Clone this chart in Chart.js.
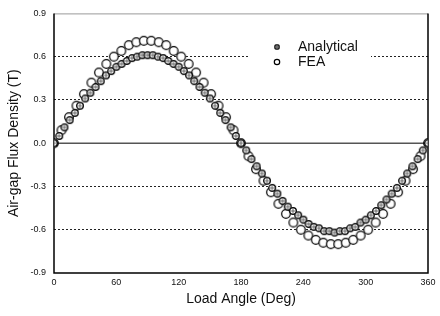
<!DOCTYPE html>
<html>
<head>
<meta charset="utf-8">
<script src="https://cdn.jsdelivr.net/npm/chart.js@4"></script>
<style>
  html, body { margin: 0; padding: 0; background: #fff; }
  #wrap { width: 440px; height: 316px; }
</style>
</head>
<body>
<div id="wrap"><canvas id="chart" width="440" height="316"></canvas></div>
<script>
// Analytical samples: load angle (deg) and air-gap flux density (T)
const anaAngles = [0, 5, 10, 15, 20, 25, 30, 35, 40, 45, 50, 55, 60, 65, 70, 75, 80, 85, 90,
    95, 100, 105, 110, 115, 120, 125, 130, 135, 140, 145, 150, 155, 160, 165, 170, 175, 180,
    185, 190, 195, 200, 205, 210, 215, 220, 225, 230, 235, 240, 245, 250, 255, 260, 265, 270,
    275, 280, 285, 290, 295, 300, 305, 310, 315, 320, 325, 330, 335, 340, 345, 350, 355, 360];
const analytical = [0.00, 0.05, 0.11, 0.16, 0.21, 0.26, 0.31, 0.35, 0.39, 0.43, 0.47, 0.50, 0.53,
    0.55, 0.57, 0.59, 0.60, 0.61, 0.61,
    0.61, 0.60, 0.59, 0.57, 0.55, 0.53, 0.50, 0.47, 0.43, 0.39, 0.35, 0.31, 0.26, 0.21, 0.16,
    0.11, 0.05, 0.00,
    -0.05, -0.11, -0.16, -0.21, -0.26, -0.31, -0.35, -0.40, -0.44, -0.47, -0.50, -0.53, -0.56,
    -0.58, -0.59, -0.61, -0.61, -0.62,
    -0.61, -0.61, -0.59, -0.58, -0.55, -0.53, -0.50, -0.47, -0.43, -0.39, -0.35, -0.31, -0.26,
    -0.21, -0.16, -0.11, -0.05, 0.00];

// FEA samples
const feaAngles = [0, 7.2, 14.4, 21.6, 28.8, 36, 43.2, 50.4, 57.6, 64.8, 72, 79.2, 86.4, 93.6,
    100.8, 108, 115.2, 122.4, 129.6, 136.8, 144, 151.2, 158.4, 165.6, 172.8, 180, 187.2, 194.4,
    201.6, 208.8, 216, 223.2, 230.4, 237.6, 244.8, 252, 259.2, 266.4, 273.6, 280.8, 288, 295.2,
    302.4, 309.6, 316.8, 324, 331.2, 338.4, 345.6, 352.8, 360];
const fea = [0.00, 0.09, 0.18, 0.26, 0.34, 0.42, 0.49, 0.55, 0.60, 0.64, 0.68, 0.70, 0.71, 0.71,
    0.70, 0.68, 0.64, 0.60, 0.55, 0.49, 0.42, 0.34, 0.26, 0.18, 0.09, 0.00,
    -0.09, -0.18, -0.26, -0.34, -0.42, -0.49, -0.55, -0.60, -0.64, -0.67, -0.69, -0.70, -0.70,
    -0.69, -0.67, -0.64, -0.60, -0.55, -0.49, -0.42, -0.34, -0.26, -0.18, -0.09, 0.00];

const xTicks = [0, 60, 120, 180, 240, 300, 360];
const yTicks = [-0.9, -0.6, -0.3, 0.0, 0.3, 0.6, 0.9];

const FONT = "'Liberation Sans', Arial, sans-serif";

// marker images
function markerCanvas(r, cross) {
    const c = document.createElement('canvas');
    const s = Math.ceil(r * 2 + 3);
    c.width = s; c.height = s;
    const g = c.getContext('2d');
    const m = s / 2;
    g.fillStyle = '#fff';
    g.strokeStyle = '#000';
    g.lineWidth = 1.2;
    g.beginPath(); g.arc(m, m, r, 0, Math.PI * 2); g.fill(); g.stroke();
    if (cross) {
        g.lineWidth = 0.7;
        g.strokeStyle = '#333';
        g.beginPath();
        g.moveTo(m - r, m); g.lineTo(m + r, m);
        g.moveTo(m, m - r); g.lineTo(m, m + r);
        g.stroke();
    }
    return c;
}

const frame = {
    id: 'frame',
    beforeDatasetsDraw(chart) {
        const { ctx, chartArea: a, scales } = chart;
        const y0 = scales.y.getPixelForValue(0);
        ctx.save();
        ctx.strokeStyle = '#555';
        ctx.lineWidth = 1.5;
        ctx.beginPath(); ctx.moveTo(a.left, y0); ctx.lineTo(a.right, y0); ctx.stroke();
        // legend background
        ctx.fillStyle = '#fff';
        ctx.fillRect(248, 38, 123, 32);
        // box
        ctx.strokeStyle = '#999';
        ctx.lineWidth = 1;
        ctx.beginPath(); ctx.moveTo(a.left, a.top + 0.5); ctx.lineTo(a.right, a.top + 0.5); ctx.stroke();
        ctx.strokeStyle = '#000';
        ctx.lineWidth = 1.5;
        ctx.beginPath();
        ctx.moveTo(a.left, a.top); ctx.lineTo(a.left, a.bottom); ctx.lineTo(a.right, a.bottom); ctx.lineTo(a.right, a.top);
        ctx.stroke();
        // legend
        ctx.fillStyle = '#111';
        ctx.font = '14px ' + FONT;
        ctx.textBaseline = 'middle';
        ctx.fillText('Analytical', 298, 47);
        ctx.fillText('FEA', 298, 62);
        ctx.fillStyle = '#222';
        ctx.beginPath(); ctx.arc(277, 47, 3, 0, Math.PI * 2); ctx.fill();
        ctx.strokeStyle = '#999'; ctx.lineWidth = 0.8;
        ctx.beginPath(); ctx.moveTo(274.5, 47); ctx.lineTo(279.5, 47); ctx.moveTo(277, 44.5); ctx.lineTo(277, 49.5); ctx.stroke();
        ctx.strokeStyle = '#000'; ctx.lineWidth = 1.2;
        ctx.beginPath(); ctx.arc(277, 62, 2.7, 0, Math.PI * 2); ctx.stroke();
        ctx.restore();
    }
};

const ctx = document.getElementById('chart').getContext('2d');
new Chart(ctx, {
    type: 'scatter',
    data: {
        datasets: [
            {
                label: 'Analytical',
                data: anaAngles.map((a, i) => ({ x: a, y: analytical[i] })),
                pointStyle: markerCanvas(3.4, true),
                pointRadius: 4
            },
            {
                label: 'FEA',
                data: feaAngles.map((a, i) => ({ x: a, y: fea[i] })),
                pointStyle: markerCanvas(4.3, false),
                pointRadius: 5
            }
        ]
    },
    plugins: [frame],
    options: {
        responsive: false,
        animation: false,
        devicePixelRatio: 1,
        layout: { padding: { left: 0, top: 10, right: 12, bottom: 0 } },
        plugins: {
            legend: { display: false },
            tooltip: { enabled: false }
        },
        scales: {
            x: {
                type: 'linear',
                min: 0,
                max: 360,
                afterBuildTicks: s => { s.ticks = xTicks.map(v => ({ value: v })); },
                afterFit: s => { s.height = 43; },
                grid: { display: false, drawTicks: false },
                border: { display: false },
                ticks: {
                    padding: 4,
                    color: '#111',
                    font: { family: FONT, size: 9 },
                    maxRotation: 0
                },
                title: {
                    display: true,
                    text: 'Load Angle (Deg)',
                    color: '#111',
                    font: { family: FONT, size: 14 },
                    padding: { top: 0, bottom: 8 }
                }
            },
            y: {
                type: 'linear',
                min: -0.9,
                max: 0.9,
                afterBuildTicks: s => { s.ticks = yTicks.map(v => ({ value: v })); },
                afterFit: s => { s.width = 54; },
                grid: {
                    drawTicks: false,
                    color: c => (Math.abs(c.tick.value) > 0.85 || Math.abs(c.tick.value) < 0.01) ? 'rgba(0,0,0,0)' : '#222',
                    lineWidth: 1
                },
                border: { display: false, dash: [2, 2] },
                ticks: {
                    padding: 8,
                    color: '#111',
                    font: { family: FONT, size: 9 },
                    callback: v => v.toFixed(1)
                },
                title: {
                    display: true,
                    text: 'Air-gap Flux Density (T)',
                    color: '#111',
                    font: { family: FONT, size: 14 },
                    padding: { top: 6, bottom: 0 }
                }
            }
        }
    }
});
</script>
</body>
</html>
